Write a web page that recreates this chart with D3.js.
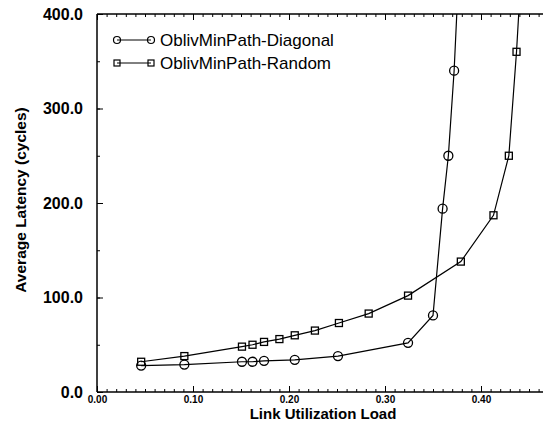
<!DOCTYPE html>
<html>
<head>
<meta charset="utf-8">
<script src="https://cdn.jsdelivr.net/npm/d3@7"></script>
<style>
  html, body { margin: 0; padding: 0; background: #fff; }
  svg { display: block; }
</style>
</head>
<body>
<div id="chart"></div>
<script>
// ---- data ----
const seriesNames = ["OblivMinPath-Diagonal", "OblivMinPath-Random"];
const loadDiag = [0.046, 0.091, 0.151, 0.162, 0.174, 0.206, 0.251, 0.324, 0.350, 0.360, 0.366, 0.372, 0.378];
const latDiag  = [28, 29, 32, 32, 33, 34, 38, 52, 81, 194, 250, 340, 470];
const loadRand = [0.046, 0.091, 0.151, 0.162, 0.174, 0.190, 0.206, 0.227, 0.252, 0.283, 0.324, 0.379, 0.413, 0.429, 0.437, 0.441];
const latRand  = [32, 38, 48, 50, 53, 56, 60, 65, 73, 83, 102, 138, 187, 250, 360, 430];
const xTicks = [0.00, 0.10, 0.20, 0.30, 0.40];
const yTicks = [0, 100, 200, 300, 400];
const xTitle = "Link Utilization Load";
const yTitle = "Average Latency (cycles)";

// ---- layout ----
const W = 543, H = 426;
const m = { left: 97, top: 14, bottom: 392 };
const svg = d3.select("#chart").append("svg").attr("width", W).attr("height", H);

const x = d3.scaleLinear().domain([0, 0.47]).range([m.left, m.left + 0.47 * 960]);
const y = d3.scaleLinear().domain([0, 400]).range([m.bottom, m.top]);
const font = "'Liberation Sans', Arial, Helvetica, sans-serif";

svg.append("defs").append("clipPath").attr("id", "clip")
  .append("rect").attr("x", m.left).attr("y", m.top).attr("width", W - m.left).attr("height", m.bottom - m.top);

// minor ticks
const xMinor = d3.range(1, 47).map(i => i / 100);
const yMinor = d3.range(0, 401, 50);

// bottom axis (ticks inward/up)
const xb = svg.append("g").attr("transform", `translate(0,${m.bottom})`)
  .call(d3.axisBottom(x).tickValues(xMinor).tickSize(-3).tickFormat(""));
xb.select(".domain").remove();
const xbMaj = svg.append("g").attr("transform", `translate(0,${m.bottom})`)
  .call(d3.axisBottom(x).tickValues(xTicks).tickSize(-6).tickPadding(4).tickFormat(d3.format(".2f")));
xbMaj.select(".domain").remove();
xbMaj.selectAll("text").attr("font-family", font).attr("font-size", 10).attr("font-weight", "bold").attr("fill", "#000");
svg.append("line").attr("x1", m.left).attr("x2", W).attr("y1", m.bottom).attr("y2", m.bottom)
  .attr("stroke", "#000").attr("stroke-width", 1.5);

// top axis (ticks inward/down)
const xt = svg.append("g").attr("transform", `translate(0,${m.top})`)
  .call(d3.axisTop(x).tickValues(xMinor).tickSize(-3).tickFormat(""));
xt.select(".domain").remove();
const xtMaj = svg.append("g").attr("transform", `translate(0,${m.top})`)
  .call(d3.axisTop(x).tickValues(xTicks).tickSize(-6).tickFormat(""));
xtMaj.select(".domain").remove();
svg.append("line").attr("x1", m.left).attr("x2", W).attr("y1", m.top).attr("y2", m.top)
  .attr("stroke", "#000").attr("stroke-width", 1.5);

// left axis (ticks inward/right)
const yl = svg.append("g").attr("transform", `translate(${m.left},0)`)
  .call(d3.axisLeft(y).tickValues(yMinor).tickSize(-3).tickFormat(""));
yl.select(".domain").remove();
const ylMaj = svg.append("g").attr("transform", `translate(${m.left},0)`)
  .call(d3.axisLeft(y).tickValues(yTicks).tickSize(-6).tickPadding(14).tickFormat(d3.format(".1f")));
ylMaj.select(".domain").remove();
ylMaj.selectAll("text").attr("font-family", font).attr("font-size", 16).attr("font-weight", "bold").attr("fill", "#000");
svg.append("line").attr("x1", m.left).attr("x2", m.left).attr("y1", m.top).attr("y2", m.bottom)
  .attr("stroke", "#000").attr("stroke-width", 1.5);

svg.selectAll(".tick line").attr("stroke", "#000").attr("stroke-width", 1);

// ---- series ----
const plot = svg.append("g").attr("clip-path", "url(#clip)");
const line = d3.line().x(d => x(d[0])).y(d => y(d[1]));
const diag = loadDiag.map((v, i) => [v, latDiag[i]]);
const rand = loadRand.map((v, i) => [v, latRand[i]]);

plot.append("path").datum(diag).attr("d", line).attr("fill", "none").attr("stroke", "#000").attr("stroke-width", 1.2);
plot.append("path").datum(rand).attr("d", line).attr("fill", "none").attr("stroke", "#000").attr("stroke-width", 1.2);

plot.selectAll(".cdot").data(diag).enter().append("circle")
  .attr("cx", d => x(d[0])).attr("cy", d => y(d[1])).attr("r", 4.5)
  .attr("fill", "none").attr("stroke", "#000").attr("stroke-width", 1.3);
plot.selectAll(".sdot").data(rand).enter().append("rect")
  .attr("x", d => x(d[0]) - 3.5).attr("y", d => y(d[1]) - 3.5).attr("width", 7).attr("height", 7)
  .attr("fill", "none").attr("stroke", "#000").attr("stroke-width", 1.3);

// ---- legend ----
const legY = [40, 63];
const lg = svg.append("g");
[0, 1].forEach(i => {
  const yy = legY[i];
  lg.append("line").attr("x1", 117).attr("x2", 151).attr("y1", yy).attr("y2", yy).attr("stroke", "#000").attr("stroke-width", 1);
  [117, 151].forEach(cx => {
    if (i === 0) lg.append("circle").attr("cx", cx).attr("cy", yy).attr("r", 3.5).attr("fill", "none").attr("stroke", "#000").attr("stroke-width", 1.2);
    else lg.append("rect").attr("x", cx - 3).attr("y", yy - 3).attr("width", 6).attr("height", 6).attr("fill", "none").attr("stroke", "#000").attr("stroke-width", 1.2);
  });
  lg.append("text").attr("x", 160).attr("y", yy).attr("dy", "0.35em")
    .attr("font-family", font).attr("font-size", 17).attr("fill", "#000").text(seriesNames[i]);
});

// ---- titles ----
svg.append("text").attr("x", 323).attr("y", 414).attr("dy", "0.35em").attr("text-anchor", "middle")
  .attr("font-family", font).attr("font-size", 15).attr("font-weight", "bold").text(xTitle);
svg.append("text").attr("transform", "translate(21,200) rotate(-90)").attr("dy", "0.35em").attr("text-anchor", "middle")
  .attr("font-family", font).attr("font-size", 15.5).attr("font-weight", "bold").text(yTitle);
</script>
</body>
</html>
